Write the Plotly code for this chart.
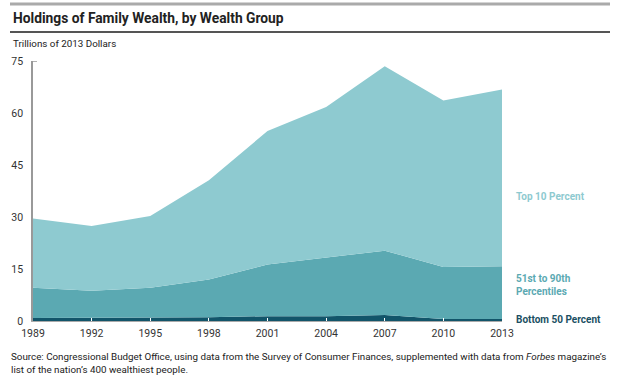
import plotly.graph_objects as go

years = [1989, 1992, 1995, 1998, 2001, 2004, 2007, 2010, 2013]
bottom50 = [0.9, 0.9, 1.0, 1.1, 1.4, 1.4, 1.7, 0.6, 0.6]
p51to90 = [8.7, 7.8, 8.6, 10.9, 14.9, 17.0, 18.6, 15.0, 15.2]
top10 = [20.0, 18.7, 20.7, 28.6, 38.5, 43.3, 53.2, 48.0, 51.0]
y_ticks = [0, 15, 30, 45, 60, 75]

C_TOP = "#8ecad0"
C_MID = "#5ba9b2"
C_BOT = "#12556a"
FONT = "Roboto, Liberation Sans, sans-serif"

fig = go.Figure()
for name, vals, col in [("Bottom 50 Percent", bottom50, C_BOT),
                        ("51st to 90th Percentiles", p51to90, C_MID),
                        ("Top 10 Percent", top10, C_TOP)]:
    fig.add_trace(go.Scatter(x=years, y=vals, name=name, stackgroup="w",
                             mode="lines", line=dict(width=0, color=col),
                             fillcolor=col, hoverinfo="x+y+name"))

PW = 469
PH = 260

fig.update_layout(
    width=620, height=381,
    margin=dict(l=33, r=118, t=61, b=60, autoexpand=False),
    paper_bgcolor="white", plot_bgcolor="white",
    showlegend=False,
    font=dict(family=FONT, size=10.5, color="#333333"),
    xaxis=dict(range=[1989, 2013], tickvals=years, ticks="inside", ticklen=3,
               tickcolor="white", tickwidth=1, showgrid=False, zeroline=False,
               showline=True, linecolor="#aaaaaa", linewidth=1,
               ticklabelstandoff=2, tickfont=dict(size=10.5, color="#333333")),
    yaxis=dict(range=[0, 75], tickvals=y_ticks, ticks="", showgrid=False,
               zeroline=False, showline=True, linecolor="#999999", linewidth=1.5,
               ticklabelstandoff=6, tickfont=dict(size=10.5, color="#333333")),
)

# header rules
fig.add_shape(type="line", xref="paper", yref="paper", x0=-23/PW, x1=(610-33)/PW,
              y0=1+(61-4)/PH, y1=1+(61-4)/PH, line=dict(color="#aaaaaa", width=3))
fig.add_shape(type="line", xref="paper", yref="paper", x0=-23/PW, x1=(610-33)/PW,
              y0=1+(61-32)/PH, y1=1+(61-32)/PH, line=dict(color="#555555", width=2))
# small top tick on y axis
fig.add_shape(type="line", xref="paper", yref="y", x0=0, x1=4/PW, y0=75, y1=75,
              line=dict(color="#999999", width=1.5))

fig.add_annotation(text="<b>Holdings of Family Wealth, by Wealth Group</b>",
                   xref="paper", yref="paper", x=-22/PW, y=1+(61-18)/PH,
                   xanchor="left", yanchor="middle", showarrow=False,
                   font=dict(size=13.8, color="#222222"))
fig.add_annotation(text="Trillions of 2013 Dollars", xref="paper", yref="paper",
                   x=-22/PW, y=1+(61-43)/PH, xanchor="left", yanchor="middle",
                   showarrow=False, font=dict(size=9.8, color="#222222"))

fig.add_annotation(text="<b>Top 10 Percent</b>", xref="paper", yref="y", x=1+12/PW,
                   y=36, xanchor="left", yanchor="middle", showarrow=False,
                   font=dict(size=10, color=C_TOP))
fig.add_annotation(text="<b>51st to 90th<br>Percentiles</b>", xref="paper", yref="y",
                   x=1+12/PW, y=10.3, xanchor="left", yanchor="middle", showarrow=False,
                   align="left", font=dict(size=10, color=C_MID))
fig.add_annotation(text="<b>Bottom 50 Percent</b>", xref="paper", yref="y", x=1+12/PW,
                   y=0.5, xanchor="left", yanchor="middle", showarrow=False,
                   font=dict(size=10, color="#1b4f63"))

fig.add_annotation(text="Source: Congressional Budget Office, using data from the Survey of Consumer Finances, "
                        "supplemented with data from <i>Forbes</i> magazine\u2019s<br>"
                        "list of the nation\u2019s 400 wealthiest people.",
                   xref="paper", yref="paper", x=-24/PW, y=-(349-321)/PH,
                   xanchor="left", yanchor="top", showarrow=False, align="left",
                   font=dict(size=9.8, color="#222222"))

fig.write_html("out.html", config={"displayModeBar": False},
               post_script="document.body.style.margin='0';")
